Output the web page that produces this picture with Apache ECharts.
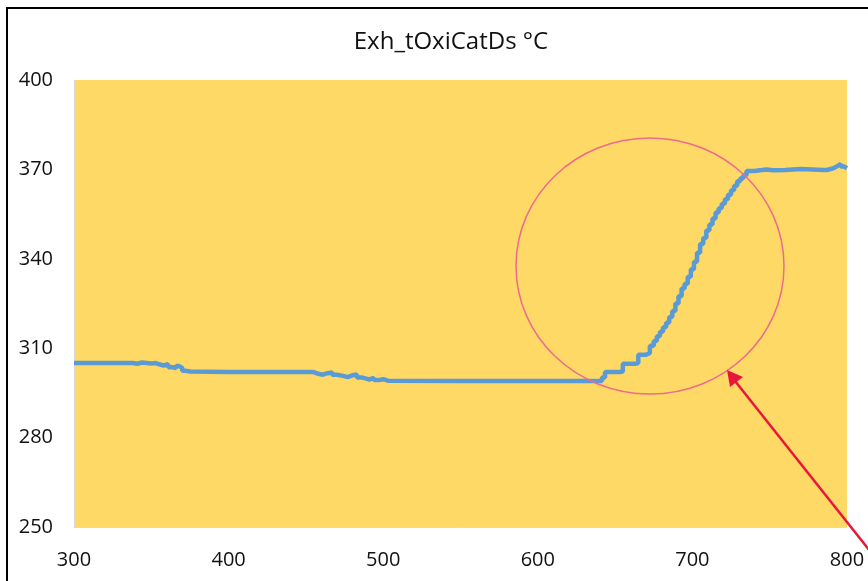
<!DOCTYPE html>
<html>
<head>
<meta charset="utf-8">
<script src="https://cdn.jsdelivr.net/npm/echarts@6/dist/echarts.min.js"></script>
<style>
html,body{margin:0;padding:0;background:#fff;}
#c{width:868px;height:581px;}
</style>
</head>
<body>
<div id="c"></div>
<script>
// Data (x = sample index, y = temperature °C)
var titleText = 'Exh_tOxiCatDs °C';
var xTicks = [300, 400, 500, 600, 700, 800];
var yTicks = [250, 280, 310, 340, 370, 400];
var sampleX = [
  300, 320, 338, 341, 344, 350, 353, 355, 358, 361, 364, 366, 368, 370, 372, 375,
  400, 430, 452, 455, 458, 461, 464, 467, 470, 474, 477, 480, 483, 486, 489, 491, 494, 497, 500, 503,
  550, 600, 640, 641.5, 643.5, 653, 655, 663, 665, 670, 672.5, 675, 677, 679, 681, 683, 685, 687, 689,
  691, 693, 695, 697, 699, 701, 703, 705, 707, 709, 711, 713, 715, 717, 719, 721, 723, 725, 727, 729,
  731, 733, 735, 740, 745, 748, 752, 760, 770, 785, 787, 790, 792, 794, 796, 798, 800
];
var temperature = [
  305, 305, 304.8, 305.2, 304.9, 305, 304.6, 304.2, 304.6, 303.6, 303.3, 304, 303.4, 302.4, 302.2, 302,
  302, 302, 302, 301.4, 301.1, 301.6, 301.9, 301.1, 300.7, 300.3, 300.9, 301.2, 300.2, 299.8, 299.5, 300, 299.3, 299.6, 299.1, 299,
  299, 299, 299, 300.2, 302, 302.2, 304.8, 305, 307.8, 308.4, 310.8, 312.4, 314, 315.5, 317, 318.5, 320.5, 322.5, 325,
  327.4, 330, 331.6, 334, 336.5, 339, 342, 345, 347, 349.5, 351.5, 353.5, 355.5, 357, 358.5, 360, 361.5, 363, 364.5, 366,
  367, 368, 369.5, 369.8, 370, 369.7, 369.8, 370.1, 369.8, 369.8, 370.2, 370.6, 371.2, 371.8, 371, 370.4, 370.2
];

var seriesData = sampleX.map(function (x, i) { return [x, temperature[i]]; });

var chart = echarts.init(document.getElementById('c'), null, {renderer: 'canvas'});
var font = '"Open Sans", Lato, sans-serif';
chart.setOption({
  animation: false,
  backgroundColor: '#ffffff',
  title: {
    text: titleText,
    left: 446, top: 25, textAlign: 'center',
    textStyle: {fontFamily: font, fontSize: 24, fontWeight: 'normal', color: '#111'}
  },
  grid: {left: 74, top: 80, width: 773, height: 447, show: true, backgroundColor: '#FFD966', borderWidth: 0},
  xAxis: {
    type: 'value', min: xTicks[0], max: xTicks[xTicks.length - 1], interval: 100,
    axisLine: {show: true, lineStyle: {color: '#d9d9d9', width: 1}},
    axisTick: {show: false},
    splitLine: {show: false},
    axisLabel: {fontFamily: font, fontSize: 20, color: '#111', margin: 23}
  },
  yAxis: {
    type: 'value', min: yTicks[0], max: yTicks[yTicks.length - 1], interval: 30,
    axisLine: {show: true, lineStyle: {color: '#d9d9d9', width: 1}},
    axisTick: {show: false},
    splitLine: {show: false},
    axisLabel: {fontFamily: font, fontSize: 20, color: '#111', margin: 21}
  },
  series: [{
    type: 'line',
    data: seriesData,
    step: 'end',
    showSymbol: false,
    lineStyle: {color: '#5B9BD5', width: 4.5},
    z: 3
  }],
  graphic: [
    {type: 'rect', shape: {x: 7, y: 8, width: 900, height: 600}, style: {fill: 'none', stroke: '#000', lineWidth: 2}, z: 100},
    {type: 'ellipse', shape: {cx: 650, cy: 266, rx: 134, ry: 128}, style: {fill: 'none', stroke: '#EE6A8E', lineWidth: 1.5}, z: 100},
    {type: 'line', shape: {x1: 735, y1: 381, x2: 885, y2: 570}, style: {stroke: '#E8173A', lineWidth: 2.5}, z: 100},
    {type: 'polygon', shape: {points: [[727, 370], [730, 387], [743, 377]]}, style: {fill: '#E8173A'}, z: 101}
  ]
});
</script>
</body>
</html>
